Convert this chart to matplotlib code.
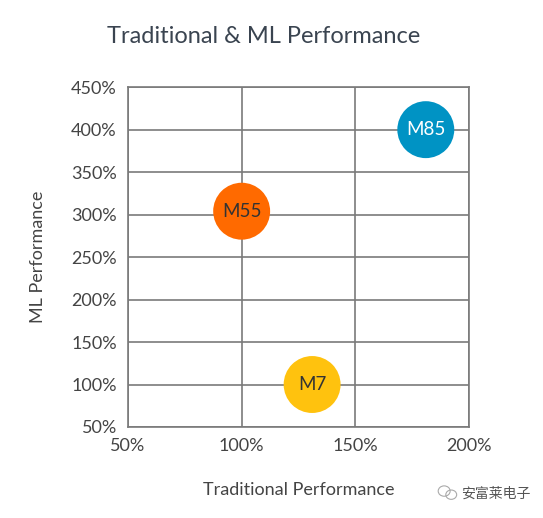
import matplotlib
matplotlib.use("Agg")
import matplotlib.pyplot as plt
from matplotlib.ticker import FuncFormatter
from matplotlib.patches import Ellipse

plt.rcParams['font.family'] = ['Lato', 'Noto Sans CJK SC', 'DejaVu Sans']

# bubble data (percent)
names = ["M55", "M7", "M85"]
traditional = [100, 131, 181]
ml = [304, 100, 400]
colors = ["#ff6a00", "#ffc20e", "#0093c4"]
text_colors = ["#333333", "#333333", "#ffffff"]

x_ticks = [50, 100, 150, 200]
y_ticks = [50, 100, 150, 200, 250, 300, 350, 400, 450]

fig = plt.figure(figsize=(5.43, 5.18), dpi=100)
ax = fig.add_axes([0.2357, 0.1757, 0.628, 0.656])

ax.scatter(traditional, ml, s=1680, c=colors, zorder=3, edgecolors='none')
for n, x, y, tc in zip(names, traditional, ml, text_colors):
    ax.text(x, y, n, ha='center', va='center', fontsize=13.5, color=tc, zorder=4)

ax.set_xlim(50, 200)
ax.set_ylim(50, 450)
ax.set_xticks(x_ticks)
ax.set_yticks(y_ticks)
pct = FuncFormatter(lambda v, p: f"{v:.0f}%")
ax.xaxis.set_major_formatter(pct)
ax.yaxis.set_major_formatter(pct)
ax.tick_params(length=0, labelsize=13, colors='#444444', pad=8)
ax.grid(True, color='#7a7a7a', linewidth=1.2, zorder=0)
ax.set_axisbelow(True)
for sp in ax.spines.values():
    sp.set_color('#7a7a7a')
    sp.set_linewidth(1.2)

ax.set_xlabel("Traditional Performance", fontsize=13, color='#444444', labelpad=20)
ax.set_ylabel("ML Performance", fontsize=13, color='#444444', labelpad=18)

fig.text(0.485, 0.93, "Traditional & ML Performance", ha='center', va='center',
         fontsize=17, color='#3a4450')

# watermark with a small chat-bubble icon
fig.text(0.977, 0.048, "安富莱电子", ha='right', va='center', fontsize=10, color='#555555')
fig.patches.append(Ellipse((0.818, 0.052), 0.022, 0.02, transform=fig.transFigure,
                           fill=False, edgecolor='#aaaaaa', linewidth=0.8))
fig.patches.append(Ellipse((0.831, 0.045), 0.02, 0.018, transform=fig.transFigure,
                           fill=False, edgecolor='#aaaaaa', linewidth=0.8))

fig.savefig("out.png", dpi=100)
